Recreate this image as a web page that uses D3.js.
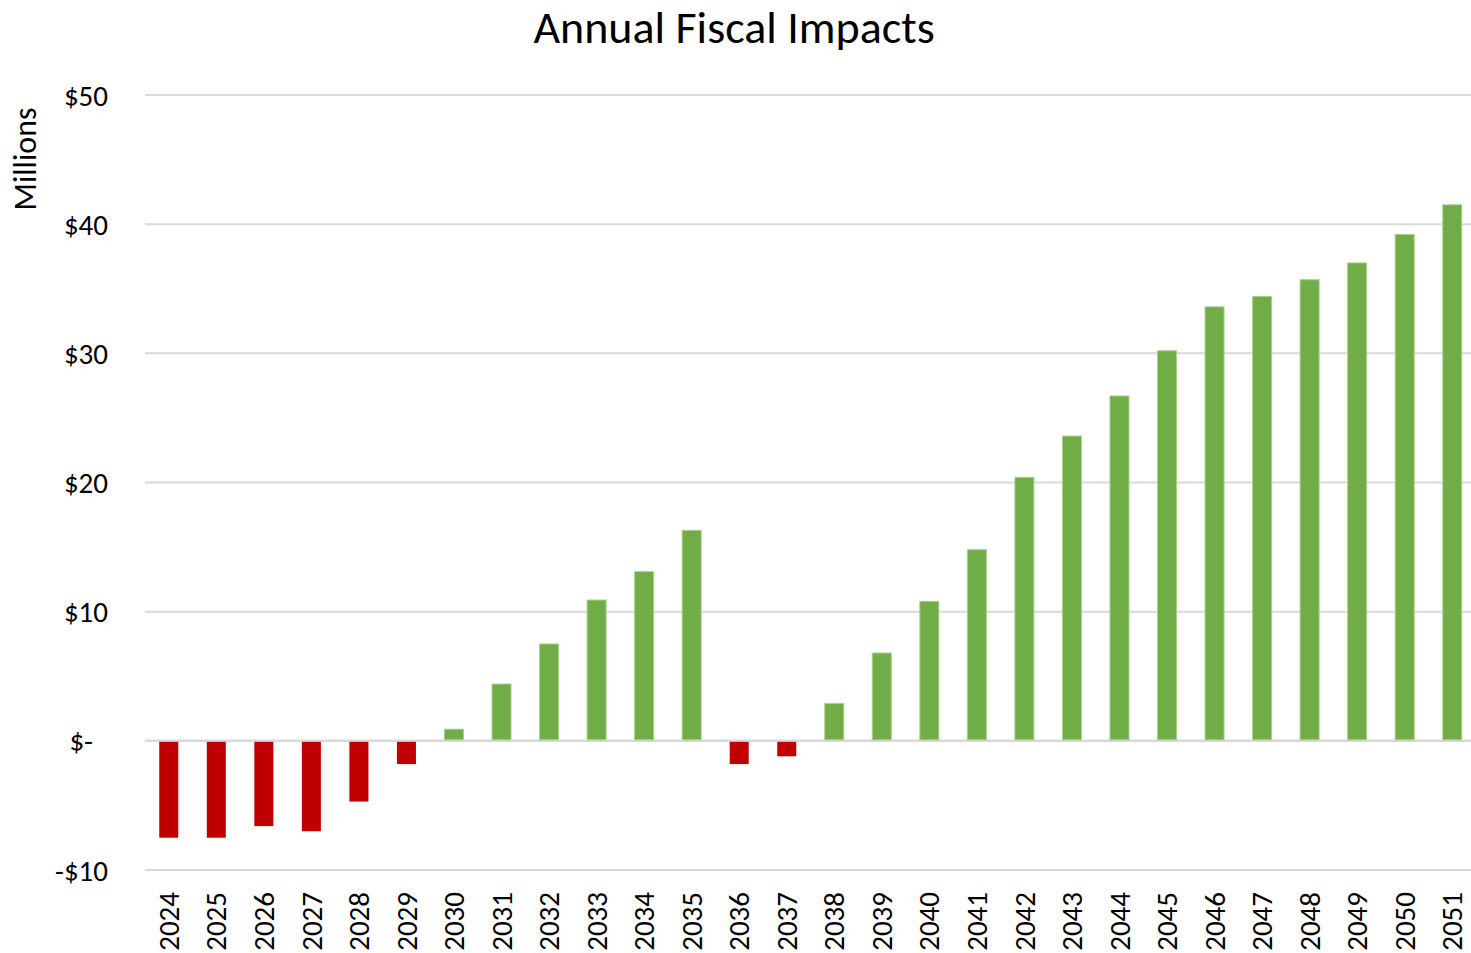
<!DOCTYPE html>
<html><head><meta charset="utf-8">
<script src="https://cdn.jsdelivr.net/npm/d3@7"></script>
<style>
body{margin:0;background:#fff;}
text{font-family:Carlito,Calibri,Lato,"Open Sans",sans-serif;fill:#000;}
</style></head>
<body><svg id="c" width="1471" height="953"></svg>
<script>
const years = ["2024","2025","2026","2027","2028","2029","2030","2031","2032","2033","2034","2035","2036","2037","2038","2039","2040","2041","2042","2043","2044","2045","2046","2047","2048","2049","2050","2051"];
const values = [-7.5,-7.5,-6.6,-7.0,-4.7,-1.8,0.9,4.4,7.5,10.9,13.1,16.3,-1.8,-1.2,2.9,6.8,10.8,14.8,20.4,23.6,26.7,30.2,33.6,34.4,35.7,37.0,39.2,41.5];
const yTicks = [-10,0,10,20,30,40,50];
const title = "Annual Fiscal Impacts";
const yLabel = "Millions";

const svg = d3.select("#c");
const x = d3.scaleBand().domain(years).range([145,1476]).paddingInner(0.6).paddingOuter(0.3);
const y = d3.scaleLinear().domain([-10,50]).range([870,95]);
const FF = "Carlito,Calibri,Lato,sans-serif";

// gridlines
svg.append("g").selectAll("line").data(yTicks).join("line")
  .attr("x1",145).attr("x2",1471)
  .attr("y1",d=>y(d)).attr("y2",d=>y(d))
  .attr("stroke","#d9d9d9").attr("stroke-width",d=>d===0?2.5:2);

// bars
svg.append("g").selectAll("rect").data(values).join("rect")
  .attr("x",(d,i)=>x(years[i]))
  .attr("width",x.bandwidth())
  .attr("y",d=>d>=0?y(d):y(0)+1)
  .attr("height",d=>d>=0?y(0)-y(d)-1:y(d)-y(0)-1)
  .attr("fill",d=>d>=0?"#70ad47":"#c00000")
  .attr("stroke",d=>d>=0?"#a9d18e":"none")
  .attr("stroke-width",1);

// y axis labels
const yAxis = d3.axisLeft(y).tickValues(yTicks).tickSize(0)
  .tickFormat(d=>d===0?"$-":(d<0?"-$"+Math.abs(d):"$"+d));
const ya = svg.append("g").attr("transform","translate(111,0)").call(yAxis);
ya.select(".domain").remove();
ya.selectAll("text").attr("font-size",29).attr("font-family",FF).attr("fill","#000")
  .attr("dx",d=>d===0?-15:0).attr("dy","0.35em");

// x axis labels
const xAxis = d3.axisBottom(x).tickSize(0);
const xa = svg.append("g").attr("transform","translate(0,880)").call(xAxis);
xa.select(".domain").remove();
xa.selectAll("text").attr("font-size",29).attr("font-family",FF).attr("fill","#000")
  .attr("transform","rotate(-90)").attr("text-anchor","end")
  .attr("x",-12).attr("y",0).attr("dy","0.35em");

// title
svg.append("text").attr("x",734).attr("y",27).attr("dy","0.35em").attr("text-anchor","middle")
  .attr("font-size",46).text(title);

// y label
svg.append("text").attr("transform","translate(25,159) rotate(-90)").attr("dy","0.35em")
  .attr("text-anchor","middle").attr("font-size",32).text(yLabel);
</script></body></html>
